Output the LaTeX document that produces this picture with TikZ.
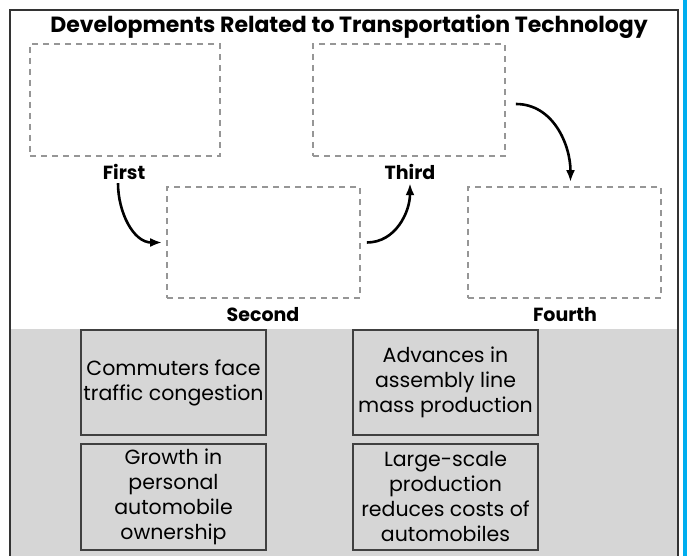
\documentclass[tikz,border=0pt]{standalone}
\usepackage{fontspec}
\setmainfont{Poppins}
\usepackage{tikz}
\usetikzlibrary{arrows.meta}
\usetikzlibrary{positioning}
\definecolor{panelgrey}{RGB}{214,214,214}
\definecolor{dashgrey}{RGB}{150,150,150}
\definecolor{edgeblue}{RGB}{0,174,239}
\tikzset{flow/.style = {-{Latex[length=12pt, width=9pt]}, line width=2.6pt}}
\tikzset{slot/.style = {draw=dashgrey, dash pattern=on 6pt off 5pt, line width=1.8pt, inner sep=0}}
\tikzset{card/.style = {draw=black!75, line width=1.1pt, inner sep=0, align=center,
                        font=\fontsize{20.5}{25}\selectfont}}
\tikzset{stage/.style = {font=\bfseries\fontsize{19}{22}\selectfont}}

\begin{document}
\begin{tikzpicture}[x=1pt, y=-1pt]
    \useasboundingbox (0,0) rectangle (687,556);
    \fill [white] (0,0) rectangle (687,556);
    \fill [panelgrey] (10,329) rectangle (678,556);
    \draw [black!80, line width=1.2pt] (10,560) -- (10,10) -- (678,10) -- (678,560);
    \fill [edgeblue] (683,0) rectangle (687,556);

    \node [font=\bfseries\fontsize{22}{26}\selectfont] (title) at (349,27)
      {Developments Related to Transportation Technology};

    \node [slot, minimum width=190, minimum height=112] (first) at (125,100) {};
    \node [slot, minimum width=192, minimum height=112] (third) at (409,100) {};
    \node [slot, minimum width=193, minimum height=111] (second) at (263.5,242.5) {};
    \node [slot, minimum width=193, minimum height=111] (fourth) at (564.5,242.5) {};

    \node [stage] (lfirst) at (124,172) {First};
    \node [stage] (lthird) at (410,172) {Third};
    \node [stage] (lsecond) at (263,315) {Second};
    \node [stage] (lfourth) at (565,315) {Fourth};

    \draw [flow] ([xshift=-6pt]lfirst.south) to[out=-90, in=180] ([xshift=-4pt]second.west);
    \draw [flow] ([xshift=6pt]second.east) to[out=0, in=-90] (lthird.south);
    \draw [flow] ([xshift=10pt, yshift=-4pt]third.east) to[out=0, in=90] ([xshift=6pt, yshift=4pt]fourth.north);

    \node [card, minimum width=185, minimum height=105] (commute) at (173.5,382.5)
      {Commuters face\\traffic congestion};
    \node [card, minimum width=185, minimum height=106] (growth) at (173.5,497)
      {Growth in\\personal\\automobile\\ownership};
    \node [card, minimum width=185, minimum height=105] (advance) at (445.5,382.5)
      {Advances in\\assembly line\\mass production};
    \node [card, minimum width=185, minimum height=106] (scale) at (445.5,497)
      {Large-scale\\production\\reduces costs of\\automobiles};
\end{tikzpicture}
\end{document}
